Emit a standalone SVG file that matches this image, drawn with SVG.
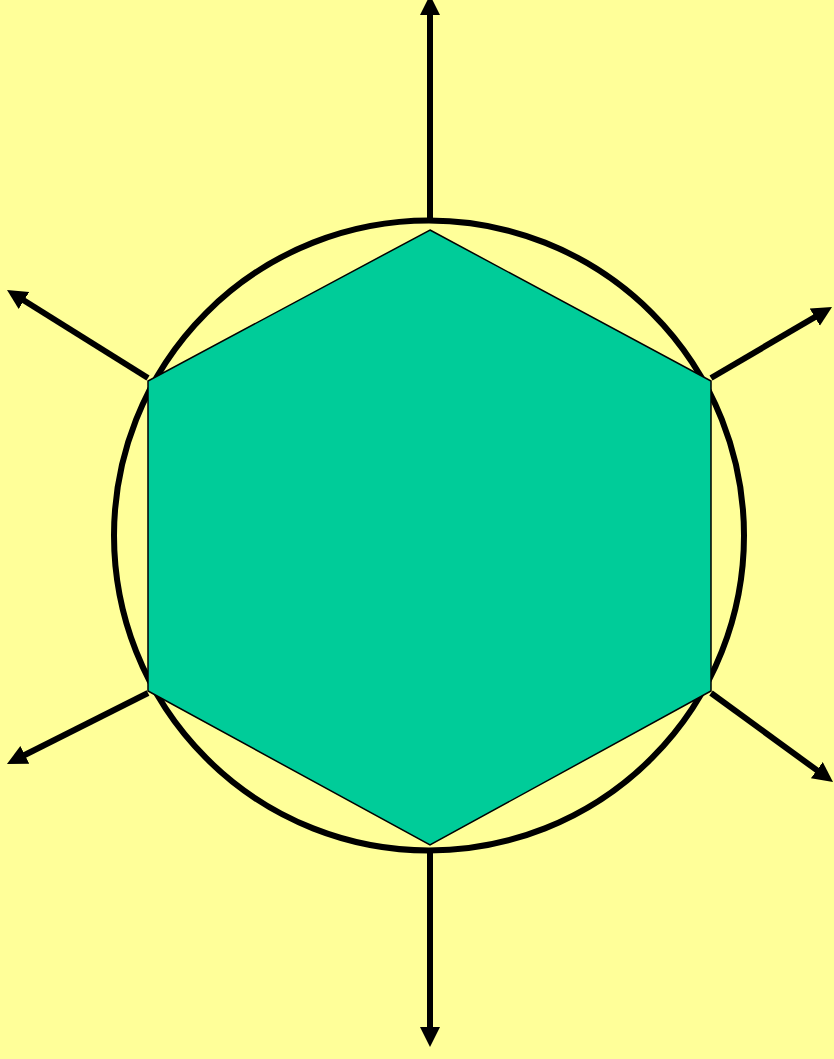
<svg xmlns="http://www.w3.org/2000/svg" width="834" height="1059" viewBox="0 0 834 1059">
<style>
.arr{stroke:#000;stroke-width:6;fill:none;marker-end:url(#ah)}
</style>
<defs>
<marker id="ah" markerUnits="userSpaceOnUse" markerWidth="22" markerHeight="22" refX="8" refY="10" orient="auto">
<path d="M0,0 L20,10 L0,20 z" fill="#000"/>
</marker>
</defs>
<rect width="834" height="1059" fill="#FFFF99"/>
<g id="circle"><circle cx="429" cy="535.5" r="315" fill="none" stroke="#000" stroke-width="6"/></g>
<g id="hexagon"><polygon points="430,230 711,381 711,691 430,845 148,691 148,381" fill="#00CC99" stroke="#000" stroke-width="1.5"/></g>
<g id="connectors">
<line class="arr" x1="430" y1="218" x2="430" y2="7"/>
<line class="arr" x1="430" y1="853" x2="430" y2="1035"/>
<line class="arr" x1="148" y1="378" x2="17.2" y2="296.3"/>
<line class="arr" x1="711" y1="378" x2="821.7" y2="313.1"/>
<line class="arr" x1="148" y1="693" x2="17.7" y2="758.5"/>
<line class="arr" x1="711" y1="693" x2="823.3" y2="774.9"/>
</g>
</svg>
